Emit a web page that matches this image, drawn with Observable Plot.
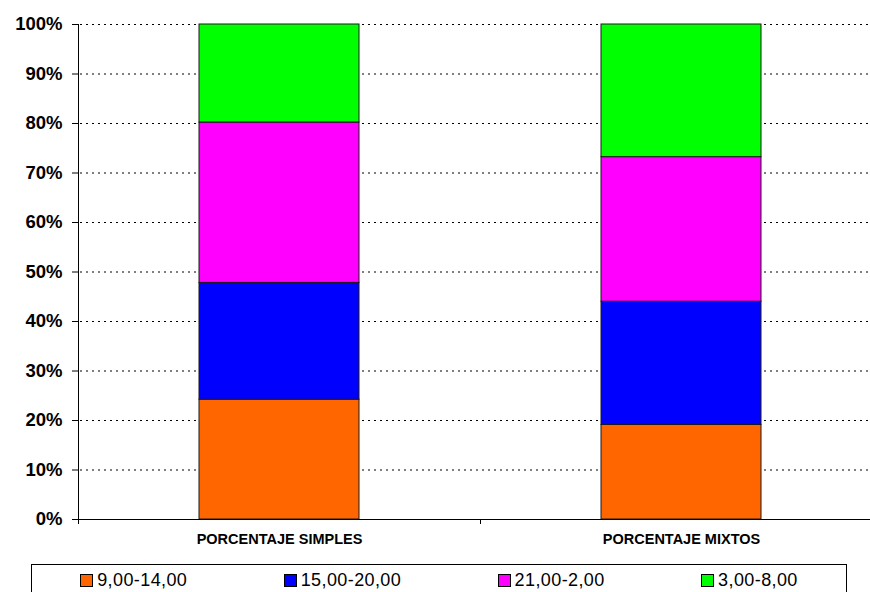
<!DOCTYPE html>
<html>
<head>
<meta charset="utf-8">
<script src="https://cdn.jsdelivr.net/npm/d3@7"></script>
<script src="https://cdn.jsdelivr.net/npm/@observablehq/plot@0.6"></script>
<style>
  html, body { margin: 0; padding: 0; background: white; overflow: hidden; }
  #chart svg { display: block; }
  .legend {
    position: relative;
    margin-left: 31px;
    width: 816px;
    margin-top: 14px;
    height: 30px;
    border: 1px solid #000;
    display: flex;
    justify-content: space-around;
    align-items: flex-start;
    padding-top: 5px;
    box-sizing: border-box;
    font-family: "Liberation Sans", Arial, sans-serif;
    font-size: 18px;
    letter-spacing: 0.4px;
    color: #000;
  }
  .legend .item { display: flex; align-items: center; line-height: 20px; }
  .legend .sw { width: 11px; height: 11px; border: 1px solid #000; margin-right: 4px; }
</style>
</head>
<body>
<div id="chart"></div>
<script>
const categories = ["PORCENTAJE SIMPLES", "PORCENTAJE MIXTOS"];
const series = ["9,00-14,00", "15,00-20,00", "21,00-2,00", "3,00-8,00"];
const simples = [24.2, 23.6, 32.4, 19.8];
const mixtos = [19.1, 24.9, 29.2, 26.8];
const colors = ["#FF6600", "#0000FF", "#FF00FF", "#00FF00"];
const yTicks = [0, 10, 20, 30, 40, 50, 60, 70, 80, 90, 100];

const data = [];
[simples, mixtos].forEach((vals, i) => {
  vals.forEach((v, j) => data.push({cat: categories[i], series: series[j], value: v}));
});

const xRange = [78, 882];
const step = (xRange[1] - xRange[0]) / categories.length;

const chart = Plot.plot({
  width: 870,
  height: 550,
  marginTop: 24,
  marginBottom: 31,
  marginLeft: 78,
  marginRight: 0,
  x: {domain: categories, range: xRange, padding: 0, axis: null, label: null},
  y: {domain: [0, 100], axis: null, label: null},
  color: {domain: series, range: colors},
  style: {fontFamily: "'Liberation Sans', Arial, sans-serif", color: "#000", background: "white"},
  marks: [
    Plot.ruleY(yTicks.filter(d => d > 0), {stroke: "#000", strokeOpacity: 1, strokeDasharray: "2,4", strokeDashoffset: 4}),
    Plot.barY(data, {x: "cat", y: "value", fill: "series", stroke: "#1a1a1a", strokeWidth: 1, insetLeft: 121, insetRight: 121}),
    Plot.ruleY([0], {stroke: "#000"}),
    Plot.ruleX([categories[0]], {dx: -step / 2, y1: 0, y2: 100, stroke: "#000"}),
    Plot.axisY({ticks: yTicks, tickFormat: d => d + "%", tickSize: 6, tickPadding: 10, fontSize: 18.5, fontWeight: "bold", anchor: "left", stroke: "#000", label: null}),
    Plot.axisX({tickSize: 5, dx: -step / 2, tickFormat: () => "", stroke: "#000", label: null}),
    Plot.axisX({tickSize: 0, tickPadding: 14, fontSize: 14.5, fontWeight: "bold", label: null})
  ]
});
document.getElementById("chart").appendChild(chart);

const legend = document.createElement("div");
legend.className = "legend";
series.forEach((s, i) => {
  const item = document.createElement("div");
  item.className = "item";
  const sw = document.createElement("span");
  sw.className = "sw";
  sw.style.background = colors[i];
  const t = document.createElement("span");
  t.textContent = s;
  item.appendChild(sw);
  item.appendChild(t);
  legend.appendChild(item);
});
document.getElementById("chart").appendChild(legend);
</script>
</body>
</html>
